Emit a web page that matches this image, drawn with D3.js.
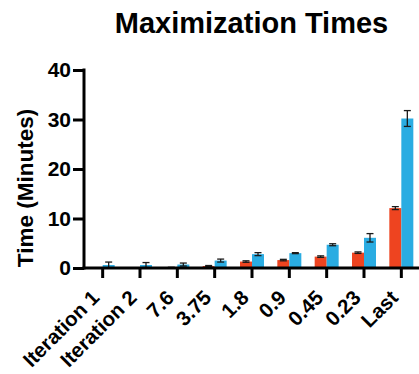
<!DOCTYPE html>
<html>
<head>
<meta charset="utf-8">
<script src="https://cdn.jsdelivr.net/npm/d3@7"></script>
<style>
  html, body { margin: 0; padding: 0; background: #fff; }
  svg { display: block; font-family: "Liberation Sans", Arial, sans-serif; font-weight: bold; }
</style>
</head>
<body>
<svg id="chart" width="419" height="374"></svg>
<script>
// Maximization times per refinement step, two series
const categories = ["Iteration 1", "Iteration 2", "7.6", "3.75", "1.8", "0.9", "0.45", "0.23", "Last"];
const redValues  = [0, 0, 0.1, 0.4, 1.3, 1.6, 2.3, 3.1, 12.1];
const redErrors  = [0, 0, 0.05, 0.1, 0.15, 0.15, 0.15, 0.15, 0.3];
const blueValues = [0.6, 0.6, 0.7, 1.5, 2.8, 3.0, 4.7, 6.1, 30.2];
const blueErrors = [0.6, 0.5, 0.3, 0.3, 0.3, 0.1, 0.2, 0.85, 1.6];
const yTicks = [0, 10, 20, 30, 40];

const svg = d3.select("#chart");
const FONT = "'Liberation Sans', Arial, sans-serif";

const x = d3.scaleBand().domain(categories).range([84, 420]).paddingInner(0).paddingOuter(0);
const sub = d3.scaleBand().domain(["red", "blue"]).range([-12, 12]);
const y = d3.scaleLinear().domain([0, 40]).range([268, 70]);

const colors = { red: "#EE4420", blue: "#2AACE2" };

const series = [
  { key: "red", values: redValues, errors: redErrors },
  { key: "blue", values: blueValues, errors: blueErrors }
];

// bars with error whiskers
series.forEach(s => {
  const g = svg.append("g");
  categories.forEach((c, i) => {
    const cx = x(c) + x.bandwidth() / 2;
    const v = s.values[i];
    if (v <= 0) return;
    g.append("rect")
      .attr("x", cx + sub(s.key))
      .attr("y", y(v))
      .attr("width", sub.bandwidth())
      .attr("height", y(0) - y(v))
      .attr("fill", colors[s.key]);
    const e = s.errors[i];
    const mx = cx + sub(s.key) + sub.bandwidth() / 2;
    const eg = g.append("g").attr("stroke", "#1a1a1a").attr("stroke-width", 1.3);
    eg.append("line").attr("x1", mx).attr("x2", mx).attr("y1", y(v - e)).attr("y2", y(v + e));
    eg.append("line").attr("x1", mx - 3.5).attr("x2", mx + 3.5).attr("y1", y(v + e)).attr("y2", y(v + e));
    eg.append("line").attr("x1", mx - 3.5).attr("x2", mx + 3.5).attr("y1", y(v - e)).attr("y2", y(v - e));
  });
});

// y axis
const yAxis = d3.axisLeft(y).tickValues(yTicks).tickSize(11).tickPadding(2).tickSizeOuter(0);
const gy = svg.append("g").attr("transform", "translate(84,0)").call(yAxis);
gy.select(".domain").attr("stroke", "#000").attr("stroke-width", 3).attr("d", `M0,${y(40) - 1.5}V${y(0) + 1.5}`);
gy.selectAll(".tick line").attr("stroke", "#000").attr("stroke-width", 3);
gy.selectAll(".tick text").attr("font-size", 21).attr("font-weight", "bold").attr("fill", "#000")
  .attr("font-family", FONT);

// x axis with diagonal category labels
const xAxis = d3.axisBottom(x).tickSize(10).tickSizeOuter(0);
const gx = svg.append("g").attr("transform", `translate(0,${y(0)})`).call(xAxis);
gx.select(".domain").attr("stroke", "#000").attr("stroke-width", 3).attr("d", "M82.5,0H419");
gx.selectAll(".tick line").attr("stroke", "#000").attr("stroke-width", 3);
gx.selectAll(".tick text")
  .attr("font-size", 20.5).attr("font-weight", "bold").attr("fill", "#000")
  .attr("font-family", FONT)
  .attr("text-anchor", "end")
  .attr("y", 0).attr("dy", 0)
  .attr("transform", "translate(-2,31) rotate(-45)");

// y axis title
svg.append("text")
  .attr("transform", "translate(33,188) rotate(-90)")
  .attr("text-anchor", "middle")
  .attr("font-size", 22.5)
  .attr("fill", "#000")
  .text("Time (Minutes)");

// chart title
svg.append("text")
  .attr("x", 251.5)
  .attr("y", 33)
  .attr("text-anchor", "middle")
  .attr("font-size", 29)
  .attr("fill", "#000")
  .text("Maximization Times");
</script>
</body>
</html>
